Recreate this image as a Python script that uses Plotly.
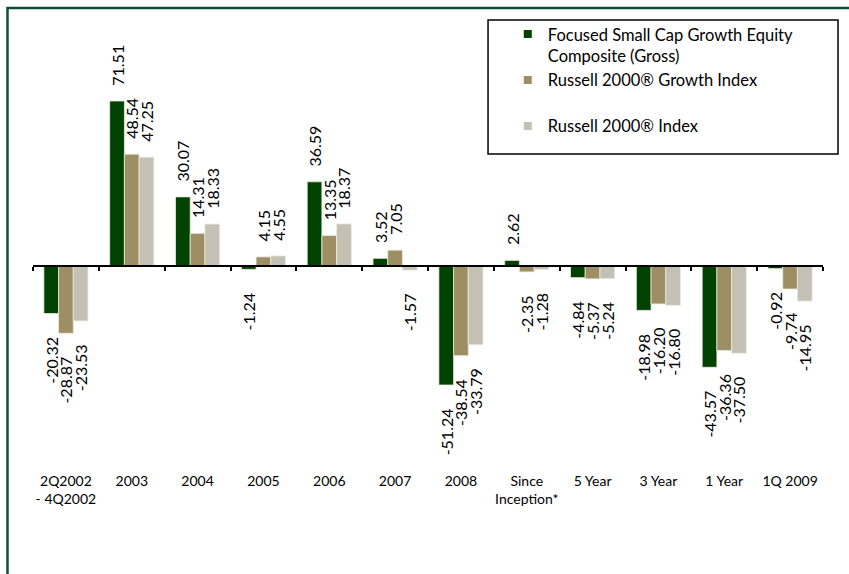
import plotly.graph_objects as go

categories = ["2Q2002<br>- 4Q2002", "2003", "2004", "2005", "2006", "2007", "2008",
              "Since<br>Inception*", "5 Year", "3 Year", "1 Year", "1Q 2009"]
composite = [-20.32, 71.51, 30.07, -1.24, 36.59, 3.52, -51.24, 2.62, -4.84, -18.98, -43.57, -0.92]
growth_idx = [-28.87, 48.54, 14.31, 4.15, 13.35, 7.05, -38.54, -2.35, -5.37, -16.20, -36.36, -9.74]
r2000_idx = [-23.53, 47.25, 18.33, 4.55, 18.37, -1.57, -33.79, -1.28, -5.24, -16.80, -37.50, -14.95]
label_composite = ["-20.32", "71.51", "30.07", "-1.24", "36.59", "3.52", "-51.24", "2.62", "-4.84", "-18.98", "-43.57", "-0.92"]
label_growth = ["-28.87", "48.54", "14.31", "4.15", "13.35", "7.05", "-38.54", "-2.35", "-5.37", "-16.20", "-36.36", "-9.74"]
label_r2000 = ["-23.53", "47.25", "18.33", "4.55", "18.37", "-1.57", "-33.79", "-1.28", "-5.24", "-16.80", "-37.50", "-14.95"]
series_names = ["Focused Small Cap Growth Equity<br>Composite (Gross)",
                "Russell 2000® Growth Index<br>\u00a0",
                "Russell 2000® Index"]
colors = ["#004200", "#9E8E63", "#C4C0B4"]

FONT = "Lato"
PAD_POS = "\u00a0" * 3
PAD_NEG = "\u00a0" * 5

def padded(vals, labels):
    out = []
    for v, t in zip(vals, labels):
        out.append(PAD_POS + t if v >= 0 else t + PAD_NEG)
    return out

fig = go.Figure()
for vals, labels, col, name in zip([composite, growth_idx, r2000_idx],
                                   [label_composite, label_growth, label_r2000],
                                   colors, series_names):
    fig.add_trace(go.Bar(
        x=categories, y=vals, name=name, showlegend=False,
        marker=dict(color=col, line=dict(color="#EAEAE0", width=0.8)),
        text=padded(vals, labels), textposition="outside", textangle=-90,
        constraintext="none", cliponaxis=False,
        textfont=dict(family=FONT, size=16, color="#000000"),
    ))
    fig.add_trace(go.Scatter(
        x=[None], y=[None], mode="markers", name=name, legendgroup=name,
        marker=dict(symbol="square", size=8, color=col),
    ))

# invisible trace to carry category labels on bottom axis
fig.add_trace(go.Scatter(x=categories, y=[0] * len(categories), xaxis="x2",
                         mode="markers", marker=dict(opacity=0, size=1), showlegend=False,
                         hoverinfo="skip"))

ymin, ymax = -87.1, 102.2
zero_pos = (0 - ymin) / (ymax - ymin)
xr = [-0.5, len(categories) - 0.5]

fig.update_layout(
    width=849, height=574,
    margin=dict(l=33, r=26, t=30, b=106, autoexpand=False),
    paper_bgcolor="white", plot_bgcolor="white",
    barmode="group", bargap=0.33, bargroupgap=0.0,
    font=dict(family=FONT, size=14, color="#000000"),
    xaxis=dict(type="category", categoryorder="array", categoryarray=categories,
               range=xr, autorange=False,
               showticklabels=False, showline=True, linecolor="#000000", linewidth=2,
               ticks="outside", tickson="boundaries", ticklen=4, tickwidth=2,
               tickcolor="#000000", anchor="free", position=zero_pos,
               showgrid=False, zeroline=False, automargin=False),
    xaxis2=dict(type="category", categoryorder="array", categoryarray=categories,
                range=xr, autorange=False,
                overlaying="x", side="bottom", anchor="y",
                showline=False, ticks="", showgrid=False, zeroline=False,
                automargin=False, ticklabelstandoff=3,
                tickfont=dict(family=FONT, size=14, color="#000000")),
    yaxis=dict(range=[ymin, ymax], visible=False, showgrid=False, zeroline=False,
               automargin=False),
    legend=dict(x=0.601, y=1.03, xanchor="left", yanchor="top",
                xref="paper", yref="paper",
                font=dict(family=FONT, size=16.5, color="#000000"),
                bgcolor="rgba(0,0,0,0)", borderwidth=0, valign="top",
                tracegroupgap=0, itemwidth=30),
    shapes=[
        dict(type="rect", xref="paper", yref="paper", x0=-0.0323, x1=1.06,
             y0=-0.30, y1=1.05, line=dict(color="#0E4D3A", width=2.5)),
        dict(type="rect", xref="paper", yref="paper", x0=0.576, x1=1.019,
             y0=0.717, y1=1.0228, line=dict(color="#000000", width=1.5)),
    ],
)

fig.write_html("out.html", config={"displayModeBar": False},
               post_script="document.body.style.margin='0px';document.body.style.overflow='hidden';")
